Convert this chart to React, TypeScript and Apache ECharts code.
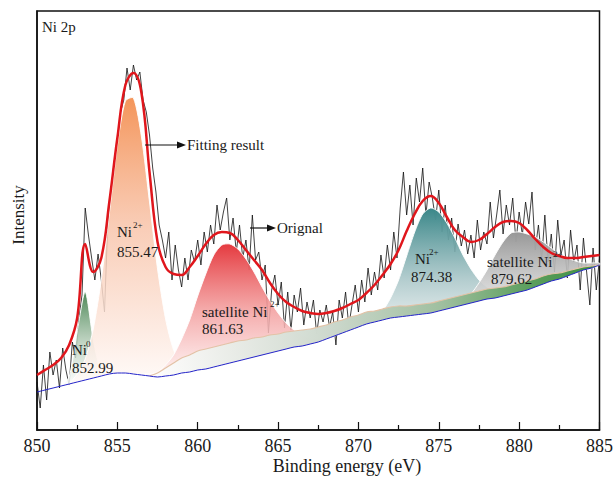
import React, { useEffect, useRef } from "react";
import * as echarts from "echarts";

// Common energy grid (eV) for the fitted curves
const energy = [
  850, 850.5, 851, 851.5, 852, 852.5, 853, 853.5, 854, 854.5,
  855, 855.5, 856, 856.5, 857, 857.5, 858, 858.5, 859, 859.5,
  860, 860.5, 861, 861.5, 862, 862.5, 863, 863.5, 864, 864.5,
  865, 865.5, 866, 866.5, 867, 867.5, 868, 868.5, 869, 869.5,
  870, 870.5, 871, 871.5, 872, 872.5, 873, 873.5, 874, 874.5,
  875, 875.5, 876, 876.5, 877, 877.5, 878, 878.5, 879, 879.5,
  880, 880.5, 881, 881.5, 882, 882.5, 883, 883.5, 884, 884.5,
  885,
];

// Background (blue line)
const background = [
  38, 40, 42, 44, 46, 48, 50, 52, 54, 56,
  57, 57, 56, 55, 54, 53, 54, 55, 57, 58,
  60, 61, 63, 65, 67, 69, 71, 73, 75, 77,
  79, 81, 83, 84, 86, 88, 91, 94, 97, 100,
  103, 106, 108, 110, 112, 113, 114, 115, 116, 117,
  119, 121, 123, 125, 127, 129, 131, 132, 134, 136,
  138, 140, 143, 146, 149, 151, 154, 157, 160, 162,
  165,
];

// Fitting result (red envelope)
const envelope = [
  55, 60, 65, 72, 85, 112, 186, 158, 172, 228,
  292, 345, 357, 337, 258, 188, 163, 156, 155, 163,
  174, 186, 195, 198, 197, 190, 180, 170, 160, 147,
  136, 128, 123, 119, 117, 116, 117, 119, 122, 126,
  130, 137, 145, 155, 166, 180, 199, 216, 229, 234,
  227, 213, 200, 193, 188, 190, 196, 203, 208, 209,
  207, 200, 191, 183, 177, 174, 172, 172, 173, 174,
  175,
];

// Components (height above background)
const ni0Peak = [
  0, 0, 0, 0, 7, 50, 88, 38, 4, 0,
  0, 0, 0, 0, 0, 0, 0, 0, 0, 0,
  0, 0, 0, 0, 0, 0, 0, 0, 0, 0,
  0, 0, 0, 0, 0, 0, 0, 0, 0, 0,
  0, 0, 0, 0, 0, 0, 0, 0, 0, 0,
  0, 0, 0, 0, 0, 0, 0, 0, 0, 0,
  0, 0, 0, 0, 0, 0, 0, 0, 0, 0,
  0,
];
const ni2MainPeak = [
  0, 0, 0, 0, 0, 8, 21, 49, 96, 160,
  227, 272, 276, 238, 174, 108, 57, 25, 10, 3,
  0, 0, 0, 0, 0, 0, 0, 0, 0, 0,
  0, 0, 0, 0, 0, 0, 0, 0, 0, 0,
  0, 0, 0, 0, 0, 0, 0, 0, 0, 0,
  0, 0, 0, 0, 0, 0, 0, 0, 0, 0,
  0, 0, 0, 0, 0, 0, 0, 0, 0, 0,
  0,
];
const ni2SatPeak = [
  0, 0, 0, 0, 0, 0, 0, 0, 0, 0,
  0, 0, 0, 1, 2, 5, 11, 20, 34, 52,
  74, 95, 112, 120, 119, 112, 100, 85, 68, 52,
  38, 26, 17, 11, 6, 3, 2, 1, 0, 0,
  0, 0, 0, 0, 0, 0, 0, 0, 0, 0,
  0, 0, 0, 0, 0, 0, 0, 0, 0, 0,
  0, 0, 0, 0, 0, 0, 0, 0, 0, 0,
  0,
];
const ni2HalfPeak = [
  0, 0, 0, 0, 0, 0, 0, 0, 0, 0,
  0, 0, 0, 0, 0, 0, 0, 0, 0, 0,
  0, 0, 0, 0, 0, 0, 0, 0, 0, 0,
  0, 0, 0, 0, 0, 0, 0, 0, 0, 0,
  0, 1, 4, 9, 20, 37, 60, 83, 100, 105,
  99, 86, 69, 50, 34, 21, 12, 6, 3, 1,
  0, 0, 0, 0, 0, 0, 0, 0, 0, 0,
  0,
];
const ni2HalfSatPeak = [
  0, 0, 0, 0, 0, 0, 0, 0, 0, 0,
  0, 0, 0, 0, 0, 0, 0, 0, 0, 0,
  0, 0, 0, 0, 0, 0, 0, 0, 0, 0,
  0, 0, 0, 0, 0, 0, 0, 0, 0, 0,
  0, 0, 0, 0, 0, 0, 0, 0, 0, 0,
  0, 1, 2, 4, 9, 18, 29, 43, 54, 61,
  60, 56, 50, 42, 33, 25, 18, 12, 7, 5,
  2,
];
// Green wedge above the background
const bandPeak = [
  0, 0, 0, 0, 0, 0, 0, 0, 0, 0,
  0, 0, 0, 0, 0, 4, 8, 12, 15, 17,
  19, 20, 20, 20, 20, 20, 19, 19, 18, 18,
  17, 17, 16, 16, 15, 15, 14, 14, 13, 13,
  12, 12, 11, 11, 11, 11, 10, 10, 10, 10,
  10, 10, 10, 10, 10, 10, 10, 10, 9, 9,
  9, 9, 8, 8, 7, 6, 5, 4, 3, 2,
  0,
];

// Original (measured) spectrum
const rawEnergy = [
  850.0, 850.2, 850.4, 850.6, 850.8, 851.0, 851.2, 851.4, 851.6, 851.8,
  852.0, 852.2, 852.4, 852.6, 852.8, 853.0, 853.2, 853.4, 853.6, 853.8,
  854.0, 854.2, 854.4, 854.6, 854.8, 855.0, 855.2, 855.4, 855.6, 855.8,
  856.0, 856.2, 856.4, 856.6, 856.8, 857.0, 857.2, 857.4, 857.6, 857.8,
  858.0, 858.2, 858.4, 858.6, 858.8, 859.0, 859.2, 859.4, 859.6, 859.8,
  860.0, 860.2, 860.4, 860.6, 860.8, 861.0, 861.2, 861.4, 861.6, 861.8,
  862.0, 862.2, 862.4, 862.6, 862.8, 863.0, 863.2, 863.4, 863.6, 863.8,
  864.0, 864.2, 864.4, 864.6, 864.8, 865.0, 865.2, 865.4, 865.6, 865.8,
  866.0, 866.2, 866.4, 866.6, 866.8, 867.0, 867.2, 867.4, 867.6, 867.8,
  868.0, 868.2, 868.4, 868.6, 868.8, 869.0, 869.2, 869.4, 869.6, 869.8,
  870.0, 870.2, 870.4, 870.6, 870.8, 871.0, 871.2, 871.4, 871.6, 871.8,
  872.0, 872.2, 872.4, 872.6, 872.8, 873.0, 873.2, 873.4, 873.6, 873.8,
  874.0, 874.2, 874.4, 874.6, 874.8, 875.0, 875.2, 875.4, 875.6, 875.8,
  876.0, 876.2, 876.4, 876.6, 876.8, 877.0, 877.2, 877.4, 877.6, 877.8,
  878.0, 878.2, 878.4, 878.6, 878.8, 879.0, 879.2, 879.4, 879.6, 879.8,
  880.0, 880.2, 880.4, 880.6, 880.8, 881.0, 881.2, 881.4, 881.6, 881.8,
  882.0, 882.2, 882.4, 882.6, 882.8, 883.0, 883.2, 883.4, 883.6, 883.8,
  884.0, 884.2, 884.4, 884.6, 884.8, 885.0,
];
const rawIntensity = [
  48, 22, 65, 30, 78, 55, 70, 42, 82, 60,
  45, 88, 72, 110, 135, 222, 195, 172, 150, 176,
  150, 118, 205, 240, 268, 290, 318, 330, 362, 340,
  365, 350, 358, 330, 318, 295, 262, 238, 205, 190,
  172, 198, 150, 185, 160, 143, 172, 150, 180, 168,
  190, 165, 198, 178, 205, 186, 225, 200, 218, 232,
  190, 212, 178, 205, 172, 190, 160, 215, 170, 178,
  150, 165, 97, 140, 155, 125, 148, 102, 138, 100,
  135, 118, 142, 105, 128, 112, 130, 96, 120, 108,
  125, 103, 118, 85, 130, 112, 138, 104, 125, 145,
  118, 150, 128, 162, 135, 158, 140, 175, 152, 185,
  160, 198, 172, 222, 258, 215, 245, 205, 252, 228,
  262, 215, 248, 232, 210, 240, 198, 225, 190, 212,
  178, 206, 184, 200, 176, 195, 172, 210, 180, 198,
  186, 228, 192, 215, 240, 196, 225, 205, 232, 188,
  218, 195, 228, 206, 238, 180, 205, 170, 215, 168,
  196, 158, 210, 175, 190, 152, 200, 168, 185, 140,
  192, 158, 125, 182, 140, 172,
];

const FONT = "Liberation Serif, Times New Roman, serif";

function pairs(xs: number[], ys: number[]) {
  return xs.map((x, i) => [x, ys[i]]);
}

function peakFill(name: string, comp: number[], stops: any[], z: number, horizontal = false, topStroke?: string) {
  return {
    type: "custom",
    name,
    z,
    silent: true,
    coordinateSystem: "cartesian2d",
    data: [[energy[0], 0]],
    encode: { x: 0, y: 1 },
    renderItem: (_params: any, api: any) => {
      let first = -1;
      let last = -1;
      comp.forEach((v, i) => {
        if (v > 0) {
          if (first < 0) first = i;
          last = i;
        }
      });
      const s = Math.max(0, first - 1);
      const e = Math.min(energy.length - 1, last + 1);
      const top: number[][] = [];
      const bot: number[][] = [];
      for (let i = s; i <= e; i++) {
        top.push(api.coord([energy[i], background[i] + comp[i]]));
        bot.push(api.coord([energy[i], background[i]]));
      }
      const fill = horizontal
        ? new echarts.graphic.LinearGradient(0, 0, 1, 0, stops)
        : new echarts.graphic.LinearGradient(0, 0, 0, 1, stops);
      const children: any[] = [
        {
          type: "polygon",
          shape: { points: top.concat(bot.slice().reverse()), smooth: 0.25 },
          style: { fill, stroke: horizontal ? "none" : "rgba(255,255,255,0.9)", lineWidth: 1 },
        },
      ];
      if (topStroke) {
        children.push({
          type: "polyline",
          shape: { points: top, smooth: 0.25 },
          style: { fill: "none", stroke: topStroke, lineWidth: 1.2 },
        });
      }
      return { type: "group", children };
    },
  };
}

function txt(text: string, x: number, y: number, size = 15, extra: any = {}) {
  return {
    type: "text",
    z: 100,
    x,
    y,
    style: {
      text,
      fontFamily: FONT,
      fontSize: size,
      fill: "#1a1a1a",
      verticalAlign: "middle",
      ...extra,
    },
  };
}

function arrow(x1: number, x2: number, y: number) {
  return [
    { type: "line", z: 100, shape: { x1, y1: y, x2: x2 - 6, y2: y }, style: { stroke: "#111", lineWidth: 1.2 } },
    {
      type: "polygon",
      z: 100,
      shape: { points: [[x2, y], [x2 - 9, y - 3.5], [x2 - 9, y + 3.5]] },
      style: { fill: "#111" },
    },
  ];
}

export default function App() {
  const ref = useRef<HTMLDivElement>(null);
  useEffect(() => {
    if (!ref.current) return;
    const chart = echarts.init(ref.current, undefined, { renderer: "svg" });
    chart.setOption({
      animation: false,
      backgroundColor: "#fff",
      grid: { left: 37, right: 16, top: 11, bottom: 50, show: true, borderColor: "#111", borderWidth: 1.5, backgroundColor: "transparent" },
      xAxis: {
        type: "value",
        min: 850,
        max: 885,
        interval: 5,
        axisLine: { show: true, onZero: false, lineStyle: { color: "#111", width: 1.5 } },
        axisTick: { show: true, inside: true, length: 8, lineStyle: { color: "#111", width: 1.2 } },
        minorTick: { show: true, splitNumber: 2, length: 5, lineStyle: { color: "#111", width: 1.2 } },
        splitLine: { show: false },
        axisLabel: { fontFamily: FONT, fontSize: 18, color: "#1a1a1a", margin: 7 },
      },
      yAxis: {
        type: "value",
        min: 0,
        max: 419,
        axisLine: { show: true, lineStyle: { color: "#111", width: 1.5 } },
        axisTick: { show: false },
        axisLabel: { show: false },
        splitLine: { show: false },
      },
      series: [
        {
          type: "line",
          name: "Orignal",
          z: 2,
          data: pairs(rawEnergy, rawIntensity),
          showSymbol: false,
          lineStyle: { color: "#111", width: 0.8 },
          silent: true,
        },
        peakFill("Ni0 852.99", ni0Peak, [
          { offset: 0, color: "#4b8755" },
          { offset: 0.55, color: "rgba(185,207,188,0.85)" },
          { offset: 1, color: "rgba(255,255,255,0.85)" },
        ], 3),
        peakFill("Ni2+ 855.47", ni2MainPeak, [
          { offset: 0, color: "#f4955a" },
          { offset: 0.45, color: "rgba(248,196,170,0.85)" },
          { offset: 1, color: "rgba(255,250,248,0.85)" },
        ], 3),
        peakFill("satellite Ni2+ 861.63", ni2SatPeak, [
          { offset: 0, color: "#e53a3f" },
          { offset: 0.5, color: "rgba(243,160,160,0.88)" },
          { offset: 1, color: "rgba(255,244,244,0.85)" },
        ], 3),
        peakFill("Ni2+ 874.38", ni2HalfPeak, [
          { offset: 0, color: "#3a8789" },
          { offset: 0.6, color: "rgba(169,198,200,0.88)" },
          { offset: 1, color: "rgba(232,238,238,0.85)" },
        ], 3),
        peakFill("satellite Ni2+ 879.62", ni2HalfSatPeak, [
          { offset: 0, color: "#979797" },
          { offset: 0.6, color: "rgba(200,200,200,0.88)" },
          { offset: 1, color: "rgba(234,234,234,0.85)" },
        ], 3),
        peakFill("band", bandPeak, [
          { offset: 0, color: "rgba(255,255,255,0.9)" },
          { offset: 0.4, color: "#cdd8cd" },
          { offset: 0.65, color: "#9fbf9f" },
          { offset: 0.85, color: "#5a9e5c" },
          { offset: 1, color: "#3e8e42" },
        ], 4, true, "#e3c2a6"),
        {
          type: "line",
          name: "Background",
          z: 5,
          data: pairs(energy, background),
          showSymbol: false,
          smooth: 0.3,
          lineStyle: { color: "#2323c8", width: 1 },
          silent: true,
        },
        {
          type: "line",
          name: "Fitting result",
          z: 6,
          data: pairs(energy, envelope),
          showSymbol: false,
          smooth: 0.4,
          lineStyle: { color: "#e0161c", width: 2.5 },
          silent: true,
        },
      ],
      graphic: [
        txt("Ni 2p", 42, 27, 15),
        {
          type: "text",
          z: 100,
          x: 18,
          y: 215,
          rotation: Math.PI / 2,
          style: { text: "Intensity", fontFamily: FONT, fontSize: 17, fill: "#1a1a1a", align: "center", verticalAlign: "middle" },
        },
        txt("Binding energy (eV)", 347, 466, 18, { align: "center" }),
        txt("Fitting result", 187, 145, 15),
        ...arrow(145, 186, 145),
        txt("Orignal", 277, 228, 15),
        ...arrow(250, 276, 228),
        txt("Ni", 117, 232, 15),
        txt("2+", 133, 225, 9),
        txt("855.47", 117, 252, 15),
        txt("Ni", 72, 350, 15),
        txt("0", 86, 344, 9),
        txt("852.99", 72, 368, 15),
        txt("satellite Ni", 202, 312, 15),
        txt("2+", 270, 304, 9),
        txt("861.63", 202, 329, 15),
        txt("Ni", 415, 259, 15),
        txt("2+", 429, 252, 9),
        txt("874.38", 411, 277, 15),
        txt("satellite Ni", 487, 262, 15),
        txt("2+", 553, 254, 9),
        txt("879.62", 491, 279, 15),
      ],
    });
    return () => chart.dispose();
  }, []);
  return <div ref={ref} style={{ position: "fixed", left: 0, top: 0, width: 616, height: 480 }} />;
}
